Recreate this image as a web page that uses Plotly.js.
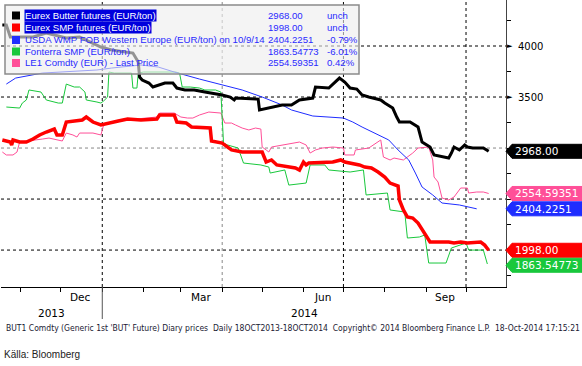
<!DOCTYPE html>
<html><head><meta charset="utf-8">
<script src="https://cdn.plot.ly/plotly-3.0.1.min.js"></script>
<style>html,body{margin:0;padding:0;background:#fff}#c{width:582px;height:366px}</style>
</head><body><div id="c"></div>
<script>
// ---------------- DATA ----------------
const butterDates = ['2013-10-18','2013-10-21','2013-10-24','2013-11-10','2013-11-20','2013-11-26','2013-12-05','2013-12-15','2013-12-31','2014-01-08','2014-01-24','2014-01-28','2014-01-29','2014-01-31','2014-02-05','2014-02-08','2014-02-12','2014-02-17','2014-02-23','2014-02-26','2014-03-04','2014-03-11','2014-03-19','2014-03-24','2014-04-01','2014-04-07','2014-04-10','2014-04-11','2014-04-28','2014-04-29','2014-05-06','2014-05-16','2014-05-23','2014-05-29','2014-06-08','2014-06-10','2014-06-20','2014-06-25','2014-06-28','2014-07-02','2014-07-06','2014-07-11','2014-07-15','2014-07-20','2014-07-24','2014-07-29','2014-08-01','2014-08-07','2014-08-10','2014-08-12','2014-08-20','2014-08-24','2014-08-26','2014-08-29','2014-09-04','2014-09-07','2014-09-13','2014-09-18','2014-09-20','2014-09-22','2014-09-26','2014-09-30','2014-10-02','2014-10-06','2014-10-14','2014-10-18'];
const butterValues = [4206,4206,4088,4088,4127,4108,4078,4088,3990,3961,3931,3843,3696,3667,3637,3598,3618,3637,3637,3588,3569,3569,3549,3539,3520,3500,3471,3490,3480,3373,3392,3422,3422,3471,3490,3598,3588,3647,3686,3647,3588,3578,3520,3500,3490,3471,3441,3392,3304,3255,3255,3226,3206,3059,3010,2932,2912,2902,2951,3010,2981,3030,3010,3000,3000,2968];

const smpDates = ['2013-10-18','2013-10-24','2013-10-25','2013-10-26','2013-10-31','2013-11-05','2013-11-10','2013-11-15','2013-11-20','2013-11-26','2013-11-28','2013-12-02','2013-12-05','2013-12-17','2013-12-20','2013-12-25','2013-12-31','2014-01-08','2014-01-13','2014-01-20','2014-01-30','2014-02-11','2014-02-13','2014-02-24','2014-02-26','2014-03-05','2014-03-09','2014-03-23','2014-03-24','2014-04-01','2014-04-08','2014-04-16','2014-05-01','2014-05-04','2014-05-08','2014-05-12','2014-05-21','2014-05-26','2014-05-29','2014-06-01','2014-06-03','2014-06-05','2014-06-23','2014-06-29','2014-07-02','2014-07-13','2014-07-17','2014-07-22','2014-07-27','2014-08-01','2014-08-05','2014-08-11','2014-08-12','2014-08-15','2014-08-18','2014-08-22','2014-08-26','2014-08-30','2014-09-04','2014-09-10','2014-09-18','2014-09-22','2014-09-27','2014-10-02','2014-10-12','2014-10-15','2014-10-18'];
const smpValues = [3079,3059,3030,3079,3059,3059,3088,3128,3157,3186,3128,3128,3255,3275,3304,3255,3226,3245,3265,3284,3275,3284,3324,3324,3255,3245,3206,3196,3069,3049,2981,2961,2961,2863,2883,2834,2814,2804,2784,2863,2834,2853,2863,2883,2863,2834,2814,2804,2765,2716,2657,2628,2491,2393,2324,2314,2265,2177,2079,2079,2079,2069,2079,2069,2079,2049,1998];

const usdaDates = ['2013-10-21','2013-10-28','2013-11-17','2013-12-28','2014-01-08','2014-01-30','2014-02-12','2014-02-24','2014-03-15','2014-04-01','2014-04-16','2014-05-01','2014-05-16','2014-05-23','2014-06-08','2014-07-01','2014-07-08','2014-07-15','2014-07-28','2014-08-04','2014-08-11','2014-08-19','2014-08-24','2014-08-29','2014-09-06','2014-09-13','2014-09-26','2014-10-09'];
const usdaValues = [3627,3686,3735,3765,3784,3814,3794,3745,3676,3618,3569,3500,3422,3373,3314,3294,3255,3206,3128,3079,2981,2883,2755,2618,2540,2461,2442,2404.2251];

const fonterraDates = ['2013-10-21','2013-10-31','2013-11-02','2013-11-05','2013-11-07','2013-11-16','2013-11-20','2013-11-29','2013-12-02','2013-12-05','2013-12-11','2013-12-15','2013-12-19','2013-12-20','2013-12-28','2013-12-31','2014-01-02','2014-01-05','2014-01-06','2014-01-10','2014-01-23','2014-01-24','2014-01-27','2014-01-28','2014-02-01','2014-02-25','2014-02-28','2014-03-02','2014-03-08','2014-03-15','2014-03-19','2014-03-27','2014-03-31','2014-04-02','2014-04-05','2014-04-13','2014-04-17','2014-04-30','2014-05-06','2014-05-07','2014-05-18','2014-05-21','2014-06-03','2014-06-06','2014-06-17','2014-06-20','2014-07-06','2014-07-16','2014-07-18','2014-08-03','2014-08-05','2014-08-16','2014-08-18','2014-08-27','2014-08-31','2014-09-03','2014-09-10','2014-09-16','2014-09-20','2014-09-27','2014-10-01','2014-10-03','2014-10-14','2014-10-17'];
const fonterraValues = [3402,3392,3441,3471,3569,3549,3471,3441,3441,3627,3598,3598,3549,3471,3451,3441,3461,3500,3745,3735,3735,3588,3588,3735,3745,3745,3735,3598,3598,3588,3569,3569,3549,3049,3030,3000,2853,2834,2814,2755,2785,2637,2657,2834,2834,2785,2765,2785,2540,2559,2393,2373,2118,2128,2147,1873,1873,1873,2020,2049,2069,2000,2000,1863.54773];

const le1Dates = ['2013-10-18','2013-10-21','2013-10-26','2013-10-29','2013-10-31','2013-11-07','2013-11-17','2013-11-22','2013-12-02','2013-12-05','2013-12-10','2013-12-13','2013-12-15','2013-12-25','2013-12-31','2014-01-02','2014-01-08','2014-01-16','2014-01-26','2014-02-11','2014-02-13','2014-02-24','2014-03-01','2014-03-06','2014-03-10','2014-03-15','2014-03-22','2014-03-31','2014-04-03','2014-04-08','2014-04-11','2014-04-16','2014-04-21','2014-04-26','2014-04-30','2014-05-01','2014-05-04','2014-05-06','2014-05-08','2014-05-16','2014-05-23','2014-05-29','2014-06-03','2014-06-06','2014-06-10','2014-06-15','2014-06-23','2014-07-01','2014-07-02','2014-07-09','2014-07-10','2014-07-20','2014-07-29','2014-07-31','2014-08-05','2014-08-08','2014-08-15','2014-08-22','2014-08-26','2014-09-03','2014-09-06','2014-09-07','2014-09-10','2014-09-13','2014-09-18','2014-09-22','2014-09-27','2014-10-02','2014-10-03','2014-10-09','2014-10-14','2014-10-18'];
const le1Values = [2961,2932,2932,2961,3059,3069,3088,3098,3069,3147,3128,3108,3147,3147,3128,3226,3245,3275,3284,3304,3343,3343,3304,3294,3294,3324,3353,3343,3245,3245,3226,3196,3177,3196,3186,3010,2981,2961,3010,3030,3049,3059,3030,2951,2981,3000,3010,3000,2932,2932,2981,3000,3079,2912,2883,2902,2883,2951,3000,3010,2883,2716,2667,2510,2491,2520,2608,2608,2559,2569,2569,2554.59351];

const seriesNames = ['Eurex Butter futures (EUR/ton)','Eurex SMP futures (EUR/ton)','USDA WMP FOB Western Europe (EUR/ton) on 10/9/14','Fonterra SMP (EUR/ton)','LE1 Comdty (EUR) - Last Price'];
const legendValues = ['2968.00','1998.00','2404.2251','1863.54773','2554.59351'];
const legendChanges = ['unch','unch','-0.79%','-6.01%','0.42%'];
const tagLabels = ['2968.00','1998.00','2404.2251','1863.54773','2554.59351'];

const yTickVals = [2000,2500,3000,3500,4000];
const yTickText = ['','','','3500','4000'];
const monthLabels = ['Dec','Mar','Jun','Sep'];
const monthLabelDates = ['2013-12-16','2014-03-16','2014-06-15','2014-09-15'];
const yearLabels = ['2013','2014'];
const yearLabelDates = ['2013-11-24','2014-06-02'];
const gridYVals = [2000,2500,3000,3500,4000];
const gridXDates = ['2014-01-01','2014-04-01','2014-07-01','2014-10-01'];

const footer = "BUT1 Comdty (Generic 1st 'BUT' Future) Diary prices  Daily 18OCT2013-18OCT2014  Copyright\u00a9 2014 Bloomberg Finance L.P.  18-Oct-2014 17:15:21";
const source = 'Källa: Bloomberg';

// ---------------- STYLE ----------------
const colors = ['#000000','#ff0000','#1f2dff','#19c83c','#ff4f98'];
const widths = [3,3.5,1,1,1];
const L=1, T=0, W=505, H=287, FW=582, FH=366;
const fx = px => (px-L)/W;
const fy = py => (T+H-py)/H;
const yPerPx = (4451-1638)/H;

const xs = [butterDates, smpDates, usdaDates, fonterraDates, le1Dates];
const ys = [butterValues, smpValues, usdaValues, fonterraValues, le1Values];
const order = [4,3,2,1,0];
const traces = order.map(i => ({
  x: xs[i], y: ys[i], type:'scatter', mode:'lines',
  line:{color:colors[i], width:widths[i], shape:'linear'},
  hoverinfo:'skip', showlegend:false
}));

const shapes = [];
const annotations = [];
const gridYColors = ['#000','#000','#888','#000','#000'];
gridYVals.forEach((v,k)=>shapes.push({type:'line',xref:'paper',yref:'y',x0:0,x1:1,y0:v,y1:v,layer:'below',line:{color:gridYColors[k],width:1,dash:'dot'}}));
const gridXColors = ['#000','#888','#000','#000'];
gridXDates.forEach((d,k)=>shapes.push({type:'line',xref:'x',yref:'paper',x0:d,x1:d,y0:0,y1:1,layer:'below',line:{color:gridXColors[k],width:1,dash:'dot'}}));
shapes.push({type:'line',xref:'x',yref:'paper',x0:'2014-01-01',x1:'2014-01-01',y0:fy(287),y1:fy(319),line:{color:'#555',width:1}});

// legend box
shapes.push({type:'rect',xref:'paper',yref:'paper',x0:fx(5),x1:fx(359),y0:fy(74),y1:fy(5),layer:'above',
  fillcolor:'rgba(238,238,238,0.62)',line:{color:'#8a8a8a',width:1.5}});
const rowY = [15.5,27.5,40,51.5,63];
const lf = 'Liberation Sans, Arial';
seriesNames.forEach((n,i)=>{
  shapes.push({type:'rect',xref:'paper',yref:'paper',x0:fx(12),x1:fx(20),y0:fy(rowY[i]+4),y1:fy(rowY[i]-4),layer:'above',fillcolor:colors[i],line:{width:0}});
  const hl = i<2;
  annotations.push({xref:'paper',yref:'paper',x:fx(24),y:fy(rowY[i]),xanchor:'left',yanchor:'middle',showarrow:false,
    text:n,font:{family:lf,size:9.6,color:hl?'#ffffff':'#2a2aff'},bgcolor:hl?'#0000dd':'rgba(0,0,0,0)',borderpad:0});
  annotations.push({xref:'paper',yref:'paper',x:fx(266),y:fy(rowY[i]),xanchor:'left',yanchor:'middle',showarrow:false,
    text:legendValues[i],font:{family:lf,size:9.6,color:'#2a2aff'}});
  annotations.push({xref:'paper',yref:'paper',x:fx(325),y:fy(rowY[i]),xanchor:'left',yanchor:'middle',showarrow:false,
    text:legendChanges[i],font:{family:lf,size:9.6,color:'#2a2aff'}});
});

// value tags on right axis
const lastVals = ys.map(a=>a[a.length-1]);
const idx = [0,1,2,3,4].sort((a,b)=>lastVals[b]-lastVals[a]);
const tagY = {};
let prev = null;
idx.forEach(i=>{
  let v = lastVals[i];
  if(prev!==null && prev - v < 15*yPerPx) v = prev - 15*yPerPx;
  tagY[i]=v; prev=v;
});
const hh = 7*yPerPx;
const x0 = fx(506), xn = fx(512), x1 = fx(FW);
[0,1,2,3,4].forEach(i=>{
  const v = tagY[i];
  shapes.push({type:'path',xref:'paper',yref:'y',layer:'above',fillcolor:colors[i],line:{color:colors[i],width:1},
    path:`M ${x0} ${v} L ${xn} ${v+hh} L ${x1} ${v+hh} L ${x1} ${v-hh} L ${xn} ${v-hh} Z`});
  annotations.push({xref:'paper',yref:'y',x:fx(513),y:v,xanchor:'left',yanchor:'middle',showarrow:false,
    text:tagLabels[i],font:{family:'DejaVu Sans',size:10.5,color:'#fff'}});
});
[3500,4000].forEach(v=>annotations.push({xref:'paper',yref:'y',x:fx(505),y:v,xanchor:'left',yanchor:'middle',showarrow:false,
  text:'\u25BA',font:{size:7,color:'#000'}}));

monthLabels.forEach((m,k)=>annotations.push({xref:'x',yref:'paper',x:monthLabelDates[k],y:fy(297),xanchor:'center',yanchor:'middle',showarrow:false,
  text:m,font:{family:'DejaVu Sans',size:10.5,color:'#000'}}));
yearLabels.forEach((m,k)=>annotations.push({xref:'x',yref:'paper',x:yearLabelDates[k],y:fy(313),xanchor:'center',yanchor:'middle',showarrow:false,
  text:m,font:{family:'DejaVu Sans',size:10.5,color:'#000'}}));
annotations.push({xref:'paper',yref:'paper',x:fx(4),y:fy(328),xanchor:'left',yanchor:'middle',showarrow:false,
  text:footer,font:{family:'DejaVu Sans Condensed, DejaVu Sans',size:8.5,color:'#1a1a33'}});
annotations.push({xref:'paper',yref:'paper',x:fx(2),y:fy(354),xanchor:'left',yanchor:'middle',showarrow:false,
  text:source,font:{family:'Liberation Sans Narrow, Liberation Sans',size:10,color:'#222'}});

const layout = {
  width:FW, height:FH,
  margin:{l:L,r:FW-L-W,t:T,b:FH-T-H,pad:0},
  paper_bgcolor:'#fff', plot_bgcolor:'#fff',
  font:{family:'DejaVu Sans',size:10,color:'#000'},
  showlegend:false,
  xaxis:{type:'date',range:['2013-10-17','2014-10-31'],showgrid:false,zeroline:false,
    showline:true,linecolor:'#000',linewidth:1,ticks:'outside',ticklen:4,tickcolor:'#000',
    tick0:'2013-11-01',dtick:'M1',showticklabels:false},
  yaxis:{range:[1638,4451],side:'right',showgrid:false,zeroline:false,showline:true,linecolor:'#444',linewidth:1,
    ticks:'outside',ticklen:4,tickcolor:'#000',tickvals:yTickVals,ticktext:yTickText,
    tickfont:{family:'DejaVu Sans',size:10,color:'#000'},ticklabelstandoff:5,
    minor:{dtick:250,tick0:0,ticks:'outside',ticklen:4,tickcolor:'#000'}},
  shapes:shapes, annotations:annotations
};
Plotly.newPlot('c', traces, layout, {staticPlot:true,displayModeBar:false});
</script></body></html>
